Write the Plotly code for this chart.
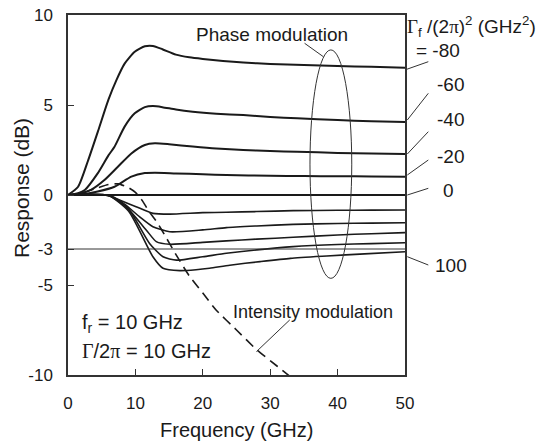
import plotly.graph_objects as go

# ---------------- data ----------------
f_m80 = [0, 1.5, 3, 4.5, 6, 7.2, 8.4, 9.9, 11.4, 12.6, 14, 16, 18, 20, 23, 26, 30, 35, 40, 45, 50]
r_m80 = [0, 0.46, 1.94, 3.6, 5.3, 6.4, 7.3, 7.96, 8.26, 8.28, 8.1, 7.8, 7.65, 7.56, 7.45, 7.36, 7.28, 7.22, 7.17, 7.12, 7.07]

f_m60 = [0, 1.5, 2.5, 4.4, 6, 6.9, 8.4, 9.9, 11.4, 12.6, 14, 16, 18.5, 22, 26, 30, 34, 40, 45, 50]
r_m60 = [0, 0.1, 0.28, 1.2, 2.2, 2.68, 3.8, 4.54, 4.88, 4.94, 4.88, 4.75, 4.63, 4.52, 4.44, 4.34, 4.26, 4.16, 4.1, 4.06]

f_m40 = [0, 2, 3.4, 5.4, 7.4, 9.4, 11.4, 12.9, 15, 18.5, 22, 26, 30, 34, 40, 45, 50]
r_m40 = [0, 0.1, 0.28, 0.83, 1.57, 2.31, 2.78, 2.87, 2.82, 2.69, 2.58, 2.5, 2.44, 2.4, 2.34, 2.3, 2.28]

f_m20 = [0, 2.5, 4.4, 6.9, 9.4, 11.4, 12.9, 16, 20, 23.5, 30, 35, 40, 45, 50]
r_m20 = [0, 0.05, 0.19, 0.46, 1.02, 1.22, 1.24, 1.2, 1.15, 1.11, 1.07, 1.05, 1.04, 1.03, 1.02]

f_0 = [0, 50]
r_0 = [0, 0]

f_p20 = [0, 6, 7.65, 10.1, 12.6, 15.1, 20, 23.5, 28, 33.4, 40, 45, 50]
r_p20 = [0, -0.02, -0.28, -0.65, -1.02, -1.06, -0.98, -0.96, -0.92, -0.87, -0.85, -0.84, -0.83]

f_p40 = [0, 6, 8, 10.6, 12.6, 15.1, 20, 23.5, 28, 33.4, 40, 45, 50]
r_p40 = [0, -0.03, -0.4, -1.2, -1.76, -2.04, -1.94, -1.81, -1.72, -1.63, -1.58, -1.56, -1.54]

f_p60 = [0, 6, 8.5, 11.6, 13.1, 15.1, 20, 23.5, 28, 33.4, 40, 45, 50]
r_p60 = [0, -0.03, -0.6, -1.94, -2.59, -2.74, -2.63, -2.55, -2.45, -2.35, -2.22, -2.15, -2.09]

f_p80 = [0, 6, 9, 12.1, 14.1, 16.1, 20, 23.5, 28, 33.4, 40, 45, 50]
r_p80 = [0, -0.03, -0.8, -2.69, -3.43, -3.62, -3.43, -3.24, -3.05, -2.87, -2.75, -2.7, -2.65]

f_p100 = [0, 6, 9, 12.6, 14.1, 16.6, 19, 21, 24, 28.5, 33, 38.4, 44, 50]
r_p100 = [0, -0.03, -0.9, -3.43, -4.07, -4.2, -4.15, -4.07, -3.9, -3.7, -3.52, -3.39, -3.27, -3.15]

f_im = [0, 2, 4, 6, 7.5, 9, 10, 11, 12, 13, 14, 16, 18, 20, 22, 25, 28, 31, 33]
r_im = [0, 0.1, 0.35, 0.58, 0.62, 0.4, 0.15, -0.3, -0.9, -1.4, -2.0, -3.3, -4.5, -5.45, -6.4, -7.5, -8.6, -9.5, -10.1]

x_ticks = [0, 10, 20, 30, 40, 50]
y_ticks = [10, 5, 0, -3, -5, -10]
y_ticktext = ["10", "5", "0", "-3", "-5", "-10"]

gamma_labels = ["= -80", "-60", "-40", "-20", "0", "100"]

# ---------------- figure ----------------
FONT = "Liberation Sans, Arial, sans-serif"
SERIF = "Liberation Serif, Times New Roman, serif"
INK = "#1a1a1a"

W, H = 557, 441
ML, MR, MT, MB = 68, 152, 15, 66
PW, PH = W - ML - MR, H - MT - MB


def px(x):
    return (x - ML) / PW


def py(y):
    return (H - MB - y) / PH


fig = go.Figure()

pm_sets = [
    (f_m80, r_m80, 2.0), (f_m60, r_m60, 2.0), (f_m40, r_m40, 2.0), (f_m20, r_m20, 2.0),
    (f_0, r_0, 2.2), (f_p20, r_p20, 1.6), (f_p40, r_p40, 1.6), (f_p60, r_p60, 1.6),
    (f_p80, r_p80, 1.6), (f_p100, r_p100, 1.6),
]
for fx, ry, w in pm_sets:
    fig.add_trace(go.Scatter(x=fx, y=ry, mode="lines",
                             line=dict(color=INK, width=w, shape="spline", smoothing=0.6),
                             hoverinfo="skip", showlegend=False))

fig.add_trace(go.Scatter(x=f_im, y=r_im, mode="lines",
                         line=dict(color=INK, width=1.6, dash="10px,6px", shape="spline", smoothing=0.5),
                         hoverinfo="skip", showlegend=False))

shapes = []
# -3 dB reference line
shapes.append(dict(type="line", xref="x", yref="y", x0=0, x1=50, y0=-3, y1=-3,
                   line=dict(color="#333", width=1)))
# ellipse around phase-modulation curves
shapes.append(dict(type="circle", xref="x", yref="y", x0=35.9, x1=42.1, y0=-4.63, y1=8.06,
                   line=dict(color="#333", width=1)))
# pointer lines
shapes.append(dict(type="line", xref="x", yref="y", x0=35.1, y0=8.43, x1=37.9, y1=7.68,
                   line=dict(color="#333", width=1)))
shapes.append(dict(type="line", xref="x", yref="y", x0=32.9, y0=-6.94, x1=27.96, y1=-8.7,
                   line=dict(color="#333", width=1)))
# leader lines to the Γf labels (outside the plot)
leaders = [((406.7, 69.3), (428.3, 61.7)), ((407.3, 120), (428.3, 93.3)),
           ((407.3, 154), (428.3, 131.7)), ((407.3, 175), (428.3, 160)),
           ((407.3, 195), (428.3, 188.3)), ((407.3, 256.7), (428.3, 265))]
for (a, b) in leaders:
    shapes.append(dict(type="line", xref="paper", yref="paper",
                       x0=px(a[0]), y0=py(a[1]), x1=px(b[0]), y1=py(b[1]),
                       line=dict(color="#333", width=1)))

annotations = []
label_pos = [(438, 51), (450, 84), (450, 120), (450, 156), (448, 190), (451, 265)]
for t, (x, y) in zip(gamma_labels, label_pos):
    annotations.append(dict(text=t, xref="paper", yref="paper", x=px(x), y=py(y),
                            showarrow=False, xanchor="center", yanchor="middle",
                            font=dict(family=FONT, size=19, color=INK)))

annotations.append(dict(
    text=f"<span style='font-family:{SERIF}'>Γ</span><sub>f</sub> /(2<span style='font-family:{SERIF}'>π</span>)<sup>2</sup> (GHz<sup>2</sup>)",
    xref="paper", yref="paper", x=px(405), y=py(26), xanchor="left", yanchor="middle",
    showarrow=False, font=dict(family=FONT, size=19, color=INK)))

annotations.append(dict(text="Phase modulation", xref="paper", yref="paper",
                        x=px(272), y=py(34), xanchor="center", yanchor="middle",
                        showarrow=False, font=dict(family=FONT, size=19, color=INK)))
annotations.append(dict(text="Intensity modulation", xref="paper", yref="paper",
                        x=px(313), y=py(312), xanchor="center", yanchor="middle",
                        showarrow=False, font=dict(family=FONT, size=18, color=INK)))
annotations.append(dict(text="f<sub>r</sub> = 10 GHz", xref="paper", yref="paper",
                        x=px(80), y=py(323), xanchor="left", yanchor="middle",
                        showarrow=False, font=dict(family=FONT, size=20, color=INK)))
annotations.append(dict(text=f"<span style='font-family:{SERIF}'>Γ</span>/2<span style='font-family:{SERIF}'>π</span> = 10 GHz",
                        xref="paper", yref="paper",
                        x=px(80), y=py(351), xanchor="left", yanchor="middle",
                        showarrow=False, font=dict(family=FONT, size=20, color=INK)))
# axis titles
annotations.append(dict(text="Response (dB)", xref="paper", yref="paper",
                        x=px(22), y=py(188), xanchor="center", yanchor="middle",
                        textangle=-90, showarrow=False,
                        font=dict(family=FONT, size=21, color=INK)))
annotations.append(dict(text="Frequency (GHz)", xref="paper", yref="paper",
                        x=px(236), y=py(430), xanchor="center", yanchor="middle",
                        showarrow=False, font=dict(family=FONT, size=20, color=INK)))

fig.update_layout(
    width=W, height=H,
    margin=dict(l=ML, r=MR, t=MT, b=MB, pad=0, autoexpand=False),
    paper_bgcolor="white", plot_bgcolor="white",
    shapes=shapes, annotations=annotations,
    font=dict(family=FONT, color=INK),
    xaxis=dict(range=[0, 50], tickvals=x_ticks, ticks="inside", ticklen=6, tickwidth=1,
               tickcolor="#333", showgrid=False, zeroline=False, showline=True, mirror=True,
               linecolor="#333", linewidth=1.5, ticklabelstandoff=12, automargin=False,
               tickfont=dict(size=17, family=FONT, color=INK)),
    yaxis=dict(range=[-10, 10], tickvals=y_ticks, ticktext=y_ticktext, ticks="inside", ticklen=6,
               tickwidth=1, tickcolor="#333", showgrid=False, zeroline=False, showline=True,
               mirror=True, linecolor="#333", linewidth=1.5, ticklabelstandoff=10, automargin=False,
               tickfont=dict(size=17, family=FONT, color=INK)),
)

fig.write_html("out.html")
